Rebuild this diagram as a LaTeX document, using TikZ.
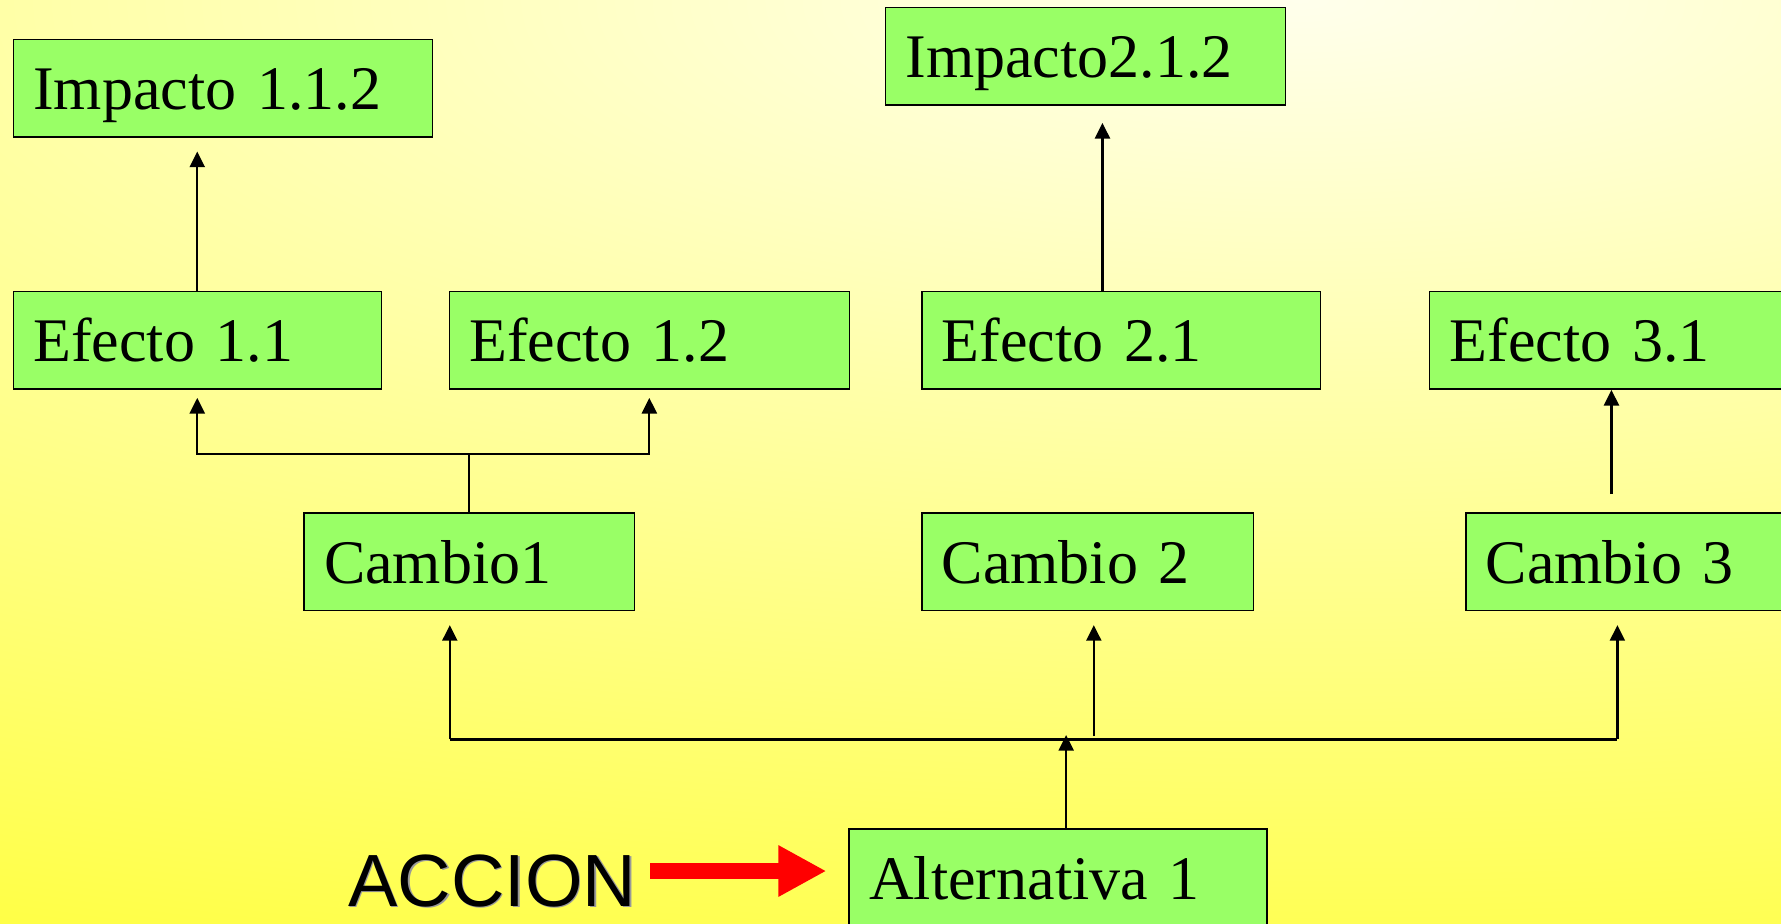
\documentclass[tikz,border=0pt]{standalone}
\usepackage{fontspec}
\setmainfont{Liberation Serif}
\newfontfamily\accionfont{Liberation Sans}
\usetikzlibrary{arrows.meta}

\definecolor{boxgreen}{RGB}{153,255,102}
\definecolor{bgglow}{RGB}{255,255,236}
\definecolor{bgyellow}{RGB}{255,255,10}
\definecolor{accred}{RGB}{255,0,0}
\pgfdeclareradialshading{bgglowshade}{\pgfpointorigin}{color(0bp)=(bgglow); color(31.2bp)=(bgyellow); color(50bp)=(bgyellow)}

\tikzset{
  efbox/.style={draw,rectangle,fill=boxgreen,line width=0.75pt,anchor=north west,
    minimum height=48.8pt,inner xsep=10pt,text height=23.5pt,text depth=2pt,align=left,
    font=\fontsize{31}{37}\selectfont},
  conn/.style={line width=1.1pt},
  arr/.style={conn,-{Triangle[length=7.8pt,width=7.5pt]}},
  accword/.style={anchor=base west,inner sep=0pt,font=\accionfont\fontsize{37}{44}\selectfont},
}

\begin{document}
\begin{tikzpicture}[x=0.5pt,y=-0.5pt]
\useasboundingbox (0,0) rectangle (1781,923);
\clip (0,0) rectangle (1781,923);
\fill[bgyellow] (0,0) rectangle (1781,923);
\begin{scope}[transform canvas={yscale=0.3267}]
\shade[shading=bgglowshade] (1300,0) circle (3400);
\end{scope}

\node [efbox,text width=189.5pt] (imp112) at(12.5,38.6){Impacto 1.1.2};
\node [efbox,text width=180pt] (imp212) at(884.8,6.8){Impacto2.1.2};

\node [efbox,text width=164pt] (e11) at(12.5,290.8){Efecto 1.1};
\node [efbox,text width=180pt] (e12) at(448.6,290.8){Efecto 1.2};
\node [efbox,text width=179.4pt] (e21) at(921.1,290.8){Efecto 2.1};
\node [efbox,text width=180pt] (e31) at(1428.8,290.8){Efecto 3.1};

\node [efbox,text width=145.3pt] (c1) at(303.3,512.2){Cambio1};
\node [efbox,text width=145.9pt] (c2) at(921.1,512.2){Cambio 2};
\node [efbox,text width=145.9pt] (c3) at(1465,512.2){Cambio 3};

\node [efbox,text width=189pt] (alt) at(848.4,828){Alternativa 1};

\node [accword,text=black!40] (accshadow) at(349.5,907.5){ACCION};
\node [accword] (accion) at(348,906){ACCION};

% efectos -> impactos
\draw[arr,shorten >=6.9pt](e11.north) -- (e11.north |- imp112.south);
\coordinate (e21up) at ([xshift=-9.4pt]e21.north);
\draw[arr,shorten >=8.5pt](e21up) -- (e21up |- imp212.south);

% cambios -> efectos
\coordinate (c1fork) at ([yshift=29pt]c1.north);
\draw[conn](c1.north) -- (c1fork);
\draw[arr,shorten >=4pt](c1fork) -| (e11.south);
\draw[arr,shorten >=4pt](c1fork) -| (e12.south);
\coordinate (c3up) at ([xshift=-10.1pt,yshift=9pt]c3.north);
\draw[arr](c3up) -- (c3up |- e31.south);

% alternativa -> cambios
\coordinate (busl) at(449.8,739.4);
\coordinate (busr) at(1617.4,739.4);
\coordinate (busm) at(1093.8,736);
\draw[conn](busl) -- (busr);
\draw[arr,shorten >=6.9pt](busl) -- (busl |- c1.south);
\draw[arr,shorten >=6.9pt](busm) -- (busm |- c2.south);
\draw[arr,shorten >=6.9pt](busr) -- (busr |- c3.south);
\coordinate (altup) at ([xshift=4pt]alt.north);
\draw[arr,shorten >=-2.2pt](altup) -- (altup |- busl);

\coordinate (redfrom) at(650,871);
\draw[line width=7.8pt,accred,-{Triangle[length=24pt,width=24pt]},shorten >=11pt](redfrom) -- (redfrom -| alt.west);
\end{tikzpicture}
\end{document}
